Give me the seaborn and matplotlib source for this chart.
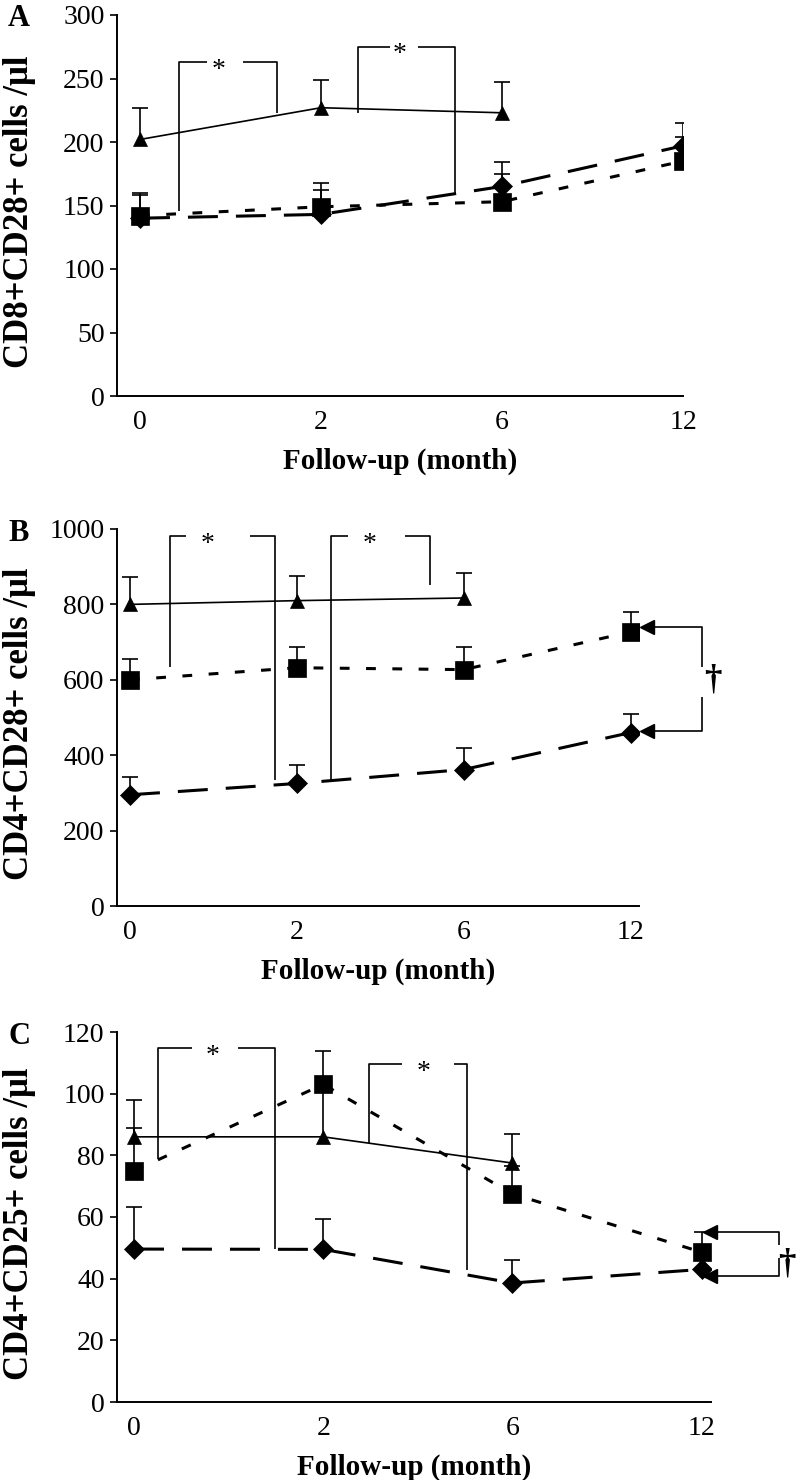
import numpy as np
import matplotlib
matplotlib.use("Agg")
import matplotlib.pyplot as plt
import seaborn as sns

# ---------------- data ----------------
months = ['0', '2', '6', '12']

# Panel A: CD8+CD28+ cells /ul
a_tri = [202, 227, 223]
a_tri_se = [25, 22, 24]
a_sq = [142, 149, 153, 185]
a_sq_se = [16, 13, 22, 19]
a_dia = [140, 143, 165, 197]
a_dia_se = [20, 25, 19, 18]

# Panel B: CD4+CD28+ cells /ul
b_tri = [800, 810, 817]
b_tri_se = [73, 65, 66]
b_sq = [600, 632, 627, 727]
b_sq_se = [56, 55, 61, 53]
b_dia = [295, 325, 362, 460]
b_dia_se = [48, 48, 56, 50]

# Panel C: CD4+CD25+ cells /ul
c_tri = [86, 86, 77.5]
c_tri_se = [12, 17, 9.5]
c_sq = [75, 103, 67.5, 48.6]
c_sq_se = [14, 11, 9, 6.5]
c_dia = [49.6, 49.5, 38.6, 43]
c_dia_se = [13.5, 10, 7.5, 4]

ylabels = ['CD8+CD28+ cells /\u03bcl', 'CD4+CD28+ cells /\u03bcl', 'CD4+CD25+ cells /\u03bcl']
panel_letters = ['A', 'B', 'C']
xlabel = 'Follow-up (month)'

# ---------------- style ----------------
sns.set_theme(style='ticks')
plt.rcParams['font.family'] = ['Liberation Serif', 'DejaVu Serif']
plt.rcParams['axes.edgecolor'] = 'black'
plt.rcParams['xtick.color'] = 'black'
plt.rcParams['ytick.color'] = 'black'
plt.rcParams['text.color'] = 'black'
plt.rcParams['axes.labelcolor'] = 'black'

W, H = 796, 1480
fig = plt.figure(figsize=(W / 100, H / 100), dpi=100)
fig.patch.set_facecolor('white')

def px_axes(left, top, right, bottom):
    return fig.add_axes([left / W, 1 - bottom / H, (right - left) / W, (bottom - top) / H])

LINE = dict(color='black', clip_on=False, lw=1.2, zorder=1, solid_capstyle='butt')

def draw_panel(ax, tri, tri_se, sq, sq_se, dia, dia_se, xlim, ylim, ystep, ax_h):
    idx = np.arange(len(months))
    for vals, se in [(dia, dia_se), (sq, sq_se), (tri, tri_se)]:
        x = idx[:len(vals)]
        eb = ax.errorbar(x, vals, yerr=[np.zeros(len(vals)), se], fmt='none',
                         ecolor='black', elinewidth=1.2, capsize=6, capthick=1.2,
                         zorder=2)
        eb[1][0].set_visible(False)
    sns.lineplot(x=idx[:len(dia)], y=dia, ax=ax, color='black', marker='D',
                 markersize=10, linewidth=2.2, linestyle=(0, (9.8, 5.9)),
                 markeredgecolor='black', markeredgewidth=0.5, errorbar=None, zorder=3)
    sns.lineplot(x=idx[:len(sq)], y=sq, ax=ax, color='black', marker='s',
                 markersize=13, linewidth=2.2, linestyle=(0, (3.2, 5.4)),
                 markeredgecolor='black', markeredgewidth=0.5, errorbar=None, zorder=4)
    sns.lineplot(x=idx[:len(tri)], y=tri, ax=ax, color='black', marker='^',
                 markersize=9.5, linewidth=1.2, linestyle='-',
                 markeredgecolor='black', markeredgewidth=0.5, errorbar=None, zorder=5)
    ax.set_xlim(*xlim)
    ax.set_ylim(*ylim)
    ax.set_yticks(np.arange(ylim[0], ylim[1] + ystep / 2, ystep))
    ax.set_xticks(idx)
    ax.set_xticklabels(months)
    ax.tick_params(axis='x', length=0, pad=10, labelsize=20)
    ax.tick_params(axis='y', length=5, width=1.2, pad=4, labelsize=20, direction='out')
    for s in ['top', 'right']:
        ax.spines[s].set_visible(False)
    for s in ['left', 'bottom']:
        ax.spines[s].set_linewidth(1.4)
        ax.spines[s].set_color('black')
    ax.set_ylabel('')
    ax.set_xlabel(xlabel, fontsize=21, fontweight='bold')
    ax.xaxis.set_label_coords(0.5, -65 / ax_h)
    ax.xaxis.label.set_va('center')
    ax.set_facecolor('white')

def bracket(ax, left, right, star):
    ax.plot(left[0], left[1], **LINE)
    ax.plot(right[0], right[1], **LINE)
    ax.annotate('*', xy=star, xytext=(0, -10.5), textcoords='offset points',
                ha='center', va='baseline', fontsize=20, annotation_clip=False)

def dagger(ax, upper, lower, arrow_x, pos):
    ax.plot(upper[0], upper[1], **LINE)
    ax.plot(lower[0], lower[1], **LINE)
    ax.plot([arrow_x, arrow_x], [upper[1][0], lower[1][-1]], linestyle='none',
            marker='<', markersize=10, color='black', clip_on=False, zorder=6)
    ax.annotate('\u2020', xy=pos, ha='center', va='center', fontsize=25,
                fontweight='bold', annotation_clip=False)

# ---------------- Panel A ----------------
axA = px_axes(117, 15, 683, 396)
draw_panel(axA, a_tri, a_tri_se, a_sq, a_sq_se, a_dia, a_dia_se,
           (-0.127, 3.0), (0, 300), 50, 381)
bracket(axA, ([0.216, 0.216, 0.371], [146, 263, 263]),
        ([0.570, 0.758, 0.758], [263, 263, 223]), (0.432, 263))
bracket(axA, ([1.206, 1.206, 1.384], [223, 275, 275]),
        ([1.538, 1.743, 1.743], [275, 275, 160]), (1.433, 275))

# ---------------- Panel B ----------------
axB = px_axes(117, 529, 639, 906)
draw_panel(axB, b_tri, b_tri_se, b_sq, b_sq_se, b_dia, b_dia_se,
           (-0.078, 3.05), (0, 1000), 200, 377)
bracket(axB, ([0.240, 0.240, 0.335], [634, 981, 981]),
        ([0.719, 0.868, 0.868], [981, 981, 335]), (0.467, 981))
bracket(axB, ([1.204, 1.204, 1.305], [335, 981, 981]),
        ([1.647, 1.796, 1.796], [981, 981, 851]), (1.437, 981))
dagger(axB, ([3.1, 3.43, 3.43], [740, 740, 634]),
       ([3.43, 3.43, 3.1], [555, 465, 465]), 3.1, (3.49, 600))

# ---------------- Panel C ----------------
axC = px_axes(117, 1032, 711, 1402)
draw_panel(axC, c_tri, c_tri_se, c_sq, c_sq_se, c_dia, c_dia_se,
           (-0.09, 3.05), (0, 120), 20, 370)
bracket(axC, ([0.127, 0.127, 0.306], [78.8, 114.8, 114.8]),
        ([0.549, 0.745, 0.745], [114.8, 114.8, 49.6]), (0.417, 114.8))
bracket(axC, ([1.241, 1.241, 1.416], [84, 109.6, 109.6]),
        ([1.690, 1.759, 1.759], [109.6, 109.6, 42.8]), (1.532, 109.6))
dagger(axC, ([3.045, 3.41, 3.41], [55.1, 55.1, 50.9]),
       ([3.41, 3.41, 3.045], [46.7, 40.9, 40.9]), 3.045, (3.45, 44.8))

# ---------------- labels ----------------
for letter, yl, yc_letter, yc_label in zip(panel_letters, ylabels,
                                           [19, 533, 1037], [212, 724, 1224]):
    fig.text(19 / W, 1 - yc_letter / H, letter, ha='center', va='center',
             fontsize=22, fontweight='bold')
    fig.text(20 / W, 1 - yc_label / H, yl, ha='center', va='center', rotation=90,
             fontsize=25, fontweight='bold')

fig.savefig('out.png', dpi=100, facecolor='white')
